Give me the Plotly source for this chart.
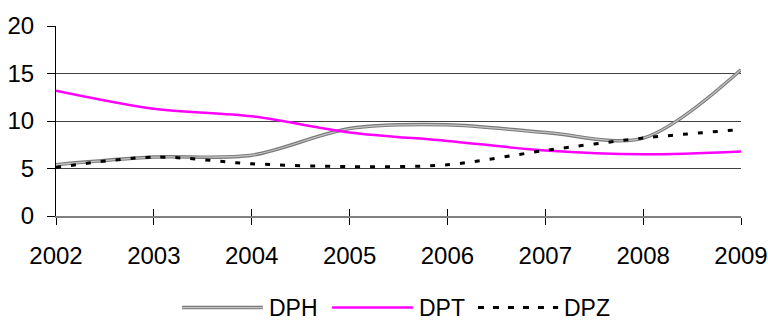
import plotly.graph_objects as go

years = [2002, 2003, 2004, 2005, 2006, 2007, 2008, 2009]
dph = [5.4, 6.2, 6.4, 9.2, 9.6, 8.8, 8.2, 15.4]
dpt = [13.2, 11.3, 10.5, 8.8, 7.9, 6.9, 6.5, 6.8]
dpz = [5.1, 6.2, 5.5, 5.2, 5.4, 6.9, 8.2, 9.1]
y_ticks = [0, 5, 10, 15, 20]
series_names = ["DPH", "DPT", "DPZ"]

FONT = "Liberation Sans, Arial, sans-serif"
FS = 24
LEG_FS = 23
DPH_DARK = "#7a7a7a"
DPH_LIGHT = "#c4c4c4"
DPT_COL = "#ff00ff"
DPZ_COL = "#000000"
DPZ_DASH = "5px,10px"

fig = go.Figure()
fig.add_trace(go.Scatter(x=years, y=dph, name=series_names[0], mode="lines",
                         line=dict(color=DPH_DARK, width=3.5, shape="spline", smoothing=0.9)))
fig.add_trace(go.Scatter(x=years, y=dph, name=series_names[0], mode="lines",
                         line=dict(color=DPH_LIGHT, width=1.2, shape="spline", smoothing=0.9),
                         hoverinfo="skip"))
fig.add_trace(go.Scatter(x=years, y=dpt, name=series_names[1], mode="lines",
                         line=dict(color=DPT_COL, width=2.5, shape="spline", smoothing=0.9)))
fig.add_trace(go.Scatter(x=years, y=dpz, name=series_names[2], mode="lines",
                         line=dict(color=DPZ_COL, width=3, dash=DPZ_DASH, shape="spline", smoothing=0.9)))
# empty trace on overlay axis so inside tick marks are drawn too (ticks cross the axis)
fig.add_trace(go.Scatter(x=years, y=[None] * len(years), xaxis="x2", showlegend=False,
                         hoverinfo="skip"))

# custom legend (long line samples, as in the reference)
leg_y = -0.482
leg_items = [
    (series_names[0], 0.184, 0.302, [(DPH_DARK, 3.5, "solid"), (DPH_LIGHT, 1.2, "solid")]),
    (series_names[1], 0.403, 0.521, [(DPT_COL, 2.5, "solid")]),
    (series_names[2], 0.616, 0.733, [(DPZ_COL, 3, "6px,9px")]),
]
shapes = []
annotations = []
for name, x0, x1, styles in leg_items:
    for col, w, dash in styles:
        shapes.append(dict(type="line", xref="paper", yref="paper", x0=x0, x1=x1,
                           y0=leg_y, y1=leg_y, line=dict(color=col, width=w, dash=dash)))
    annotations.append(dict(text=name, xref="paper", yref="paper", x=x1 + 0.006, y=leg_y,
                            xanchor="left", yanchor="middle", showarrow=False,
                            font=dict(size=LEG_FS, family=FONT, color="black")))

fig.update_layout(
    width=768, height=321,
    margin=dict(l=56, r=27, t=26, b=105),
    paper_bgcolor="white", plot_bgcolor="white",
    font=dict(family=FONT, size=FS, color="black"),
    showlegend=False,
    shapes=shapes,
    annotations=annotations,
    xaxis=dict(range=[2002, 2009], tickvals=years, ticktext=[str(y) for y in years],
               showgrid=False, zeroline=False, showline=True, linecolor="#808080",
               linewidth=2, ticks="outside", ticklen=7, tickcolor="black", tickwidth=1,
               ticklabelstandoff=10, anchor="y", automargin=False),
    xaxis2=dict(range=[2002, 2009], tickvals=years, overlaying="x", anchor="y",
                showticklabels=False, showgrid=False, zeroline=False, showline=False,
                ticks="inside", ticklen=7, tickcolor="black", tickwidth=1, side="bottom",
                automargin=False),
    yaxis=dict(range=[0, 20], tickvals=y_ticks, showgrid=True, gridcolor="#404040",
               gridwidth=1, zeroline=False, showline=True, linecolor="black", linewidth=1,
               ticks="outside", ticklen=8, tickcolor="black", tickwidth=1,
               ticklabelstandoff=8, automargin=False),
)
fig.write_html("out.html", config={"displayModeBar": False},
               post_script="document.body.style.margin='0';")
